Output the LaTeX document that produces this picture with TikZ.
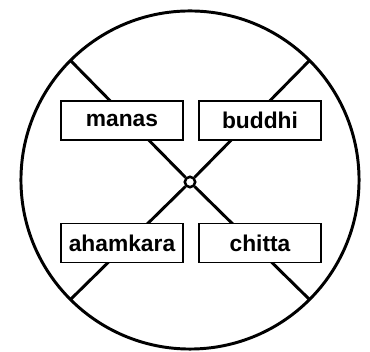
\documentclass[tikz,border=0pt]{standalone}
\usepackage{fontspec}
\setmainfont{Liberation Sans}
\usetikzlibrary{positioning}

\begin{document}
\begin{tikzpicture}[x=0.025cm, y=-0.025cm,
  part/.style={draw, fill=white, line width=0.8pt, minimum width=3.05cm, minimum height=0.975cm, inner sep=0pt, font=\fontsize{16.2}{18}\selectfont\bfseries},
  spoke/.style={line width=2.1pt}]
\useasboundingbox (0,0) rectangle (370,352);
\node[draw, circle, line width=2.1pt, minimum size=8.45cm, inner sep=0pt, outer sep=0pt] (wheel) at (190,180) {};
\node[draw, circle, line width=1.8pt, fill=white, minimum size=0.26cm, inner sep=0pt] (hub) at (190,182) {};
\draw[spoke] (wheel.135) -- (hub) -- (wheel.-45);
\draw[spoke] (wheel.45) -- (hub) -- (wheel.-135);
\node[part] (manas) at (122,120.5) {manas};
\node[part] (buddhi) at (260,120.5) {buddhi};
\node[part] (ahamkara) at (122,243) {ahamkara};
\node[part] (chitta) at (260,243) {chitta};
\end{tikzpicture}
\end{document}
